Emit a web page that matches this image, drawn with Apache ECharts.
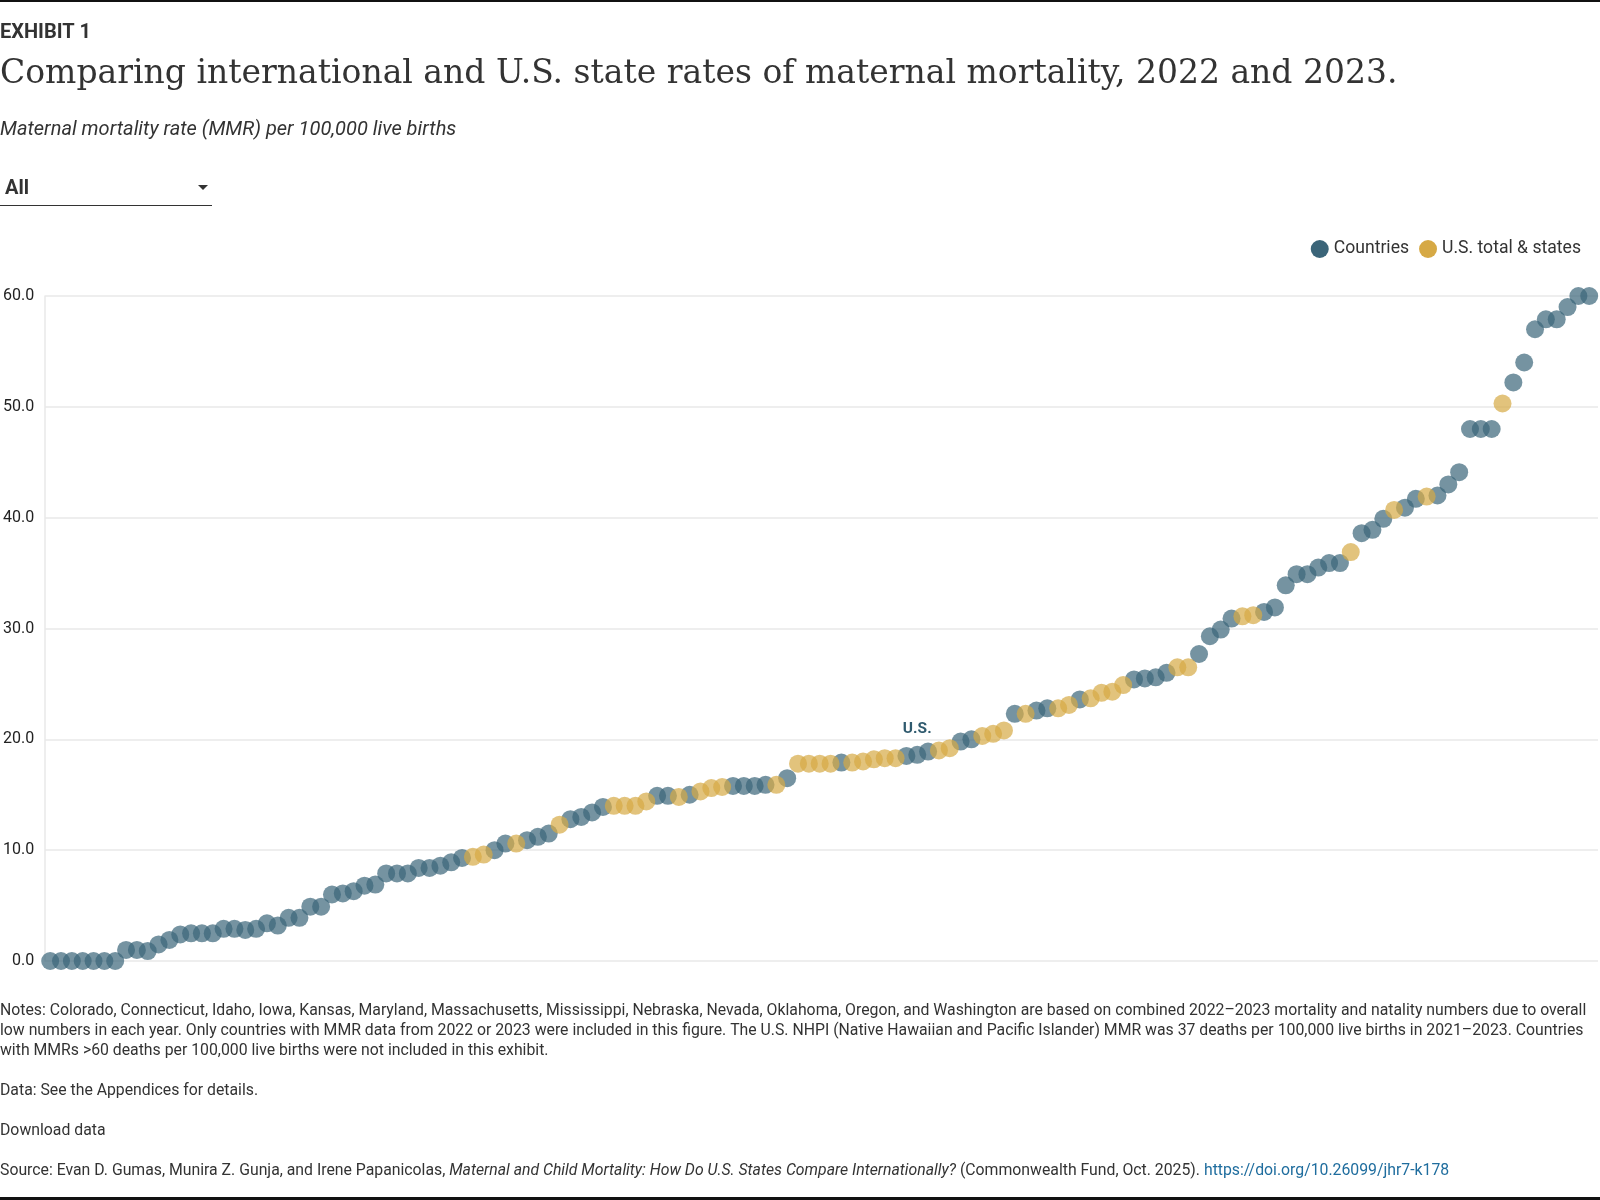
<!DOCTYPE html>
<html>
<head>
<meta charset="utf-8">
<script src="https://cdn.jsdelivr.net/npm/echarts@6/dist/echarts.min.js"></script>
<style>
  html, body { margin: 0; padding: 0; background: #fff; }
  #chart { width: 1600px; height: 1200px; }
</style>
</head>
<body>
<div id="chart"></div>
<script>
// MMR per 100,000 live births, sorted low to high
var mmr = [
  0, 0, 0, 0, 0, 0, 0, 1.0, 1.0, 0.9,
  1.5, 1.9, 2.4, 2.5, 2.5, 2.5, 2.9, 2.9, 2.8, 2.9,
  3.4, 3.2, 3.9, 3.9, 4.9, 4.9, 6.0, 6.1, 6.3, 6.8,
  6.9, 7.9, 7.9, 7.9, 8.4, 8.4, 8.6, 8.9, 9.3, 9.4,
  9.6, 10.0, 10.6, 10.6, 10.9, 11.2, 11.5, 12.3, 12.8, 13.0,
  13.4, 13.9, 14.0, 14.0, 14.0, 14.4, 14.9, 14.9, 14.8, 15.0,
  15.3, 15.6, 15.7, 15.8, 15.8, 15.8, 15.9, 15.9, 16.5, 17.8,
  17.8, 17.8, 17.8, 17.9, 17.9, 18.0, 18.2, 18.3, 18.3, 18.5,
  18.6, 18.9, 19.0, 19.2, 19.8, 20.0, 20.3, 20.5, 20.8, 22.3,
  22.3, 22.6, 22.8, 22.8, 23.1, 23.6, 23.7, 24.2, 24.3, 24.9,
  25.4, 25.5, 25.6, 26.0, 26.5, 26.5, 27.7, 29.3, 29.9, 30.9,
  31.1, 31.2, 31.5, 31.9, 33.9, 34.9, 34.9, 35.5, 35.9, 35.9,
  36.9, 38.6, 38.9, 39.9, 40.7, 40.9, 41.7, 41.9, 42.0, 43.0,
  44.1, 48.0, 48.0, 48.0, 50.3, 52.2, 54.0, 57.0, 57.9, 57.9,
  59.0, 60.0, 60.0
];
// C = country, S = U.S. state, U = U.S. total
var kind = (
  'CCCCCCCCCC' + 'CCCCCCCCCC' + 'CCCCCCCCCC' + 'CCCCCCCCCS' +
  'SCCSCCCSCC' + 'CCSSSSCCSC' + 'SSSCCCCSCS' + 'SSSCSSSSSC' +
  'UCSSCCSSSC' + 'SCCSSCSSSS' + 'CCCCSSCCCC' + 'SSCCCCCCCC' +
  'SCCCSCCSCC' + 'CCCCSCCCCC' + 'CCC'
).split('');
var yTicks = [0, 10, 20, 30, 40, 50, 60];

var blue = '#3b6579';
var gold = '#d6a945';
var font = 'Roboto';
var noteSize = 15.8;

var countries = [], states = [];
for (var i = 0; i < mmr.length; i++) {
  if (kind[i] === 'C') {
    countries.push([i, mmr[i]]);
  } else if (kind[i] === 'U') {
    states.push({
      value: [i, mmr[i]],
      itemStyle: { color: blue },
      label: {
        show: true, position: 'top', distance: 9, formatter: 'U.S.', opacity: 1,
        color: '#2f5a6e', fontWeight: 'bold', fontSize: 15.5, fontFamily: font
      }
    });
  } else {
    states.push([i, mmr[i]]);
  }
}

var chart = echarts.init(document.getElementById('chart'));

var option = {
  animation: false,
  textStyle: { fontFamily: font },
  grid: { left: 45, right: 2, top: 296, bottom: 239 },
  xAxis: { type: 'value', min: -0.46, max: mmr.length - 1 + 0.81, show: false },
  yAxis: {
    type: 'value', min: yTicks[0], max: yTicks[yTicks.length - 1], interval: 10,
    axisLine: { show: true, onZero: false, lineStyle: { color: '#e8e8e8', width: 1.5 } },
    axisTick: { show: false },
    splitLine: { lineStyle: { color: '#e8e8e8', width: 1.5 } },
    axisLabel: {
      color: '#222', fontSize: 16, margin: 11, fontFamily: font,
      formatter: function (v) { return v.toFixed(1); }
    }
  },
  legend: {
    right: 14, top: 235,
    icon: 'circle', itemWidth: 18, itemHeight: 18, itemGap: 10,
    textStyle: { fontSize: 17.6, color: '#333', fontFamily: font },
    data: [
      { name: 'Countries', itemStyle: { color: blue, opacity: 1 } },
      { name: 'U.S. total & states', itemStyle: { color: gold, opacity: 1 } }
    ]
  },
  series: [
    {
      name: 'Countries', type: 'scatter', symbolSize: 18,
      itemStyle: { color: blue, opacity: 0.7 },
      data: countries
    },
    {
      name: 'U.S. total & states', type: 'scatter', symbolSize: 18,
      itemStyle: { color: gold, opacity: 0.7 },
      data: states
    }
  ],
  graphic: [
    { type: 'rect', shape: { x: 0, y: 0, width: 1600, height: 2 }, style: { fill: '#111' } },
    { type: 'rect', shape: { x: 0, y: 1197, width: 1600, height: 3 }, style: { fill: '#111' } },
    {
      type: 'text', x: 0, y: 33,
      style: { text: 'EXHIBIT 1', fontSize: 20, fontWeight: 'bold', fontFamily: font, fill: '#333', verticalAlign: 'middle' }
    },
    {
      type: 'text', x: 0, y: 74,
      style: {
        text: 'Comparing international and U.S. state rates of maternal mortality, 2022 and 2023.',
        fontSize: 33, fontFamily: 'DejaVu Serif', fill: '#333', verticalAlign: 'middle'
      }
    },
    {
      type: 'text', x: 0, y: 130,
      style: {
        text: 'Maternal mortality rate (MMR) per 100,000 live births',
        fontSize: 20, fontStyle: 'italic', fontFamily: font, fill: '#333', verticalAlign: 'middle'
      }
    },
    {
      type: 'text', x: 5, y: 189,
      style: { text: 'All', fontSize: 20, fontWeight: 'bold', fontFamily: font, fill: '#333', verticalAlign: 'middle' }
    },
    { type: 'polygon', shape: { points: [[198, 185], [208, 185], [203, 190]] }, style: { fill: '#333' } },
    { type: 'rect', shape: { x: 0, y: 205, width: 212, height: 1 }, style: { fill: '#333' } },
    {
      type: 'text', x: 0, y: 1001.5,
      style: {
        text: 'Notes: Colorado, Connecticut, Idaho, Iowa, Kansas, Maryland, Massachusetts, Mississippi, Nebraska, Nevada, Oklahoma, Oregon, and Washington are based on combined 2022\u20132023 mortality and natality numbers due to overall\n' +
          'low numbers in each year. Only countries with MMR data from 2022 or 2023 were included in this figure. The U.S. NHPI (Native Hawaiian and Pacific Islander) MMR was 37 deaths per 100,000 live births in 2021\u20132023. Countries\n' +
          'with MMRs >60 deaths per 100,000 live births were not included in this exhibit.',
        fontSize: noteSize, lineHeight: 20, fontFamily: font, fill: '#333', verticalAlign: 'top'
      }
    },
    {
      type: 'text', x: 0, y: 1091,
      style: { text: 'Data: See the Appendices for details.', fontSize: noteSize, fontFamily: font, fill: '#333', verticalAlign: 'middle' }
    },
    {
      type: 'text', x: 0, y: 1131,
      style: { text: 'Download data', fontSize: noteSize, fontFamily: font, fill: '#333', verticalAlign: 'middle' }
    },
    {
      type: 'text', x: 0, y: 1171,
      style: {
        text: 'Source: Evan D. Gumas, Munira Z. Gunja, and Irene Papanicolas, {i|Maternal and Child Mortality: How Do U.S. States Compare Internationally?} (Commonwealth Fund, Oct. 2025). {a|https://doi.org/10.26099/jhr7-k178}',
        fontSize: noteSize, fontFamily: font, fill: '#333', verticalAlign: 'middle',
        rich: {
          i: { fontStyle: 'italic', fontSize: noteSize, fontFamily: font, fill: '#333', color: '#333' },
          a: { fontSize: noteSize, fontFamily: font, fill: '#1f6d9e', color: '#1f6d9e' }
        }
      }
    }
  ]
};

chart.setOption(option);
</script>
</body>
</html>
